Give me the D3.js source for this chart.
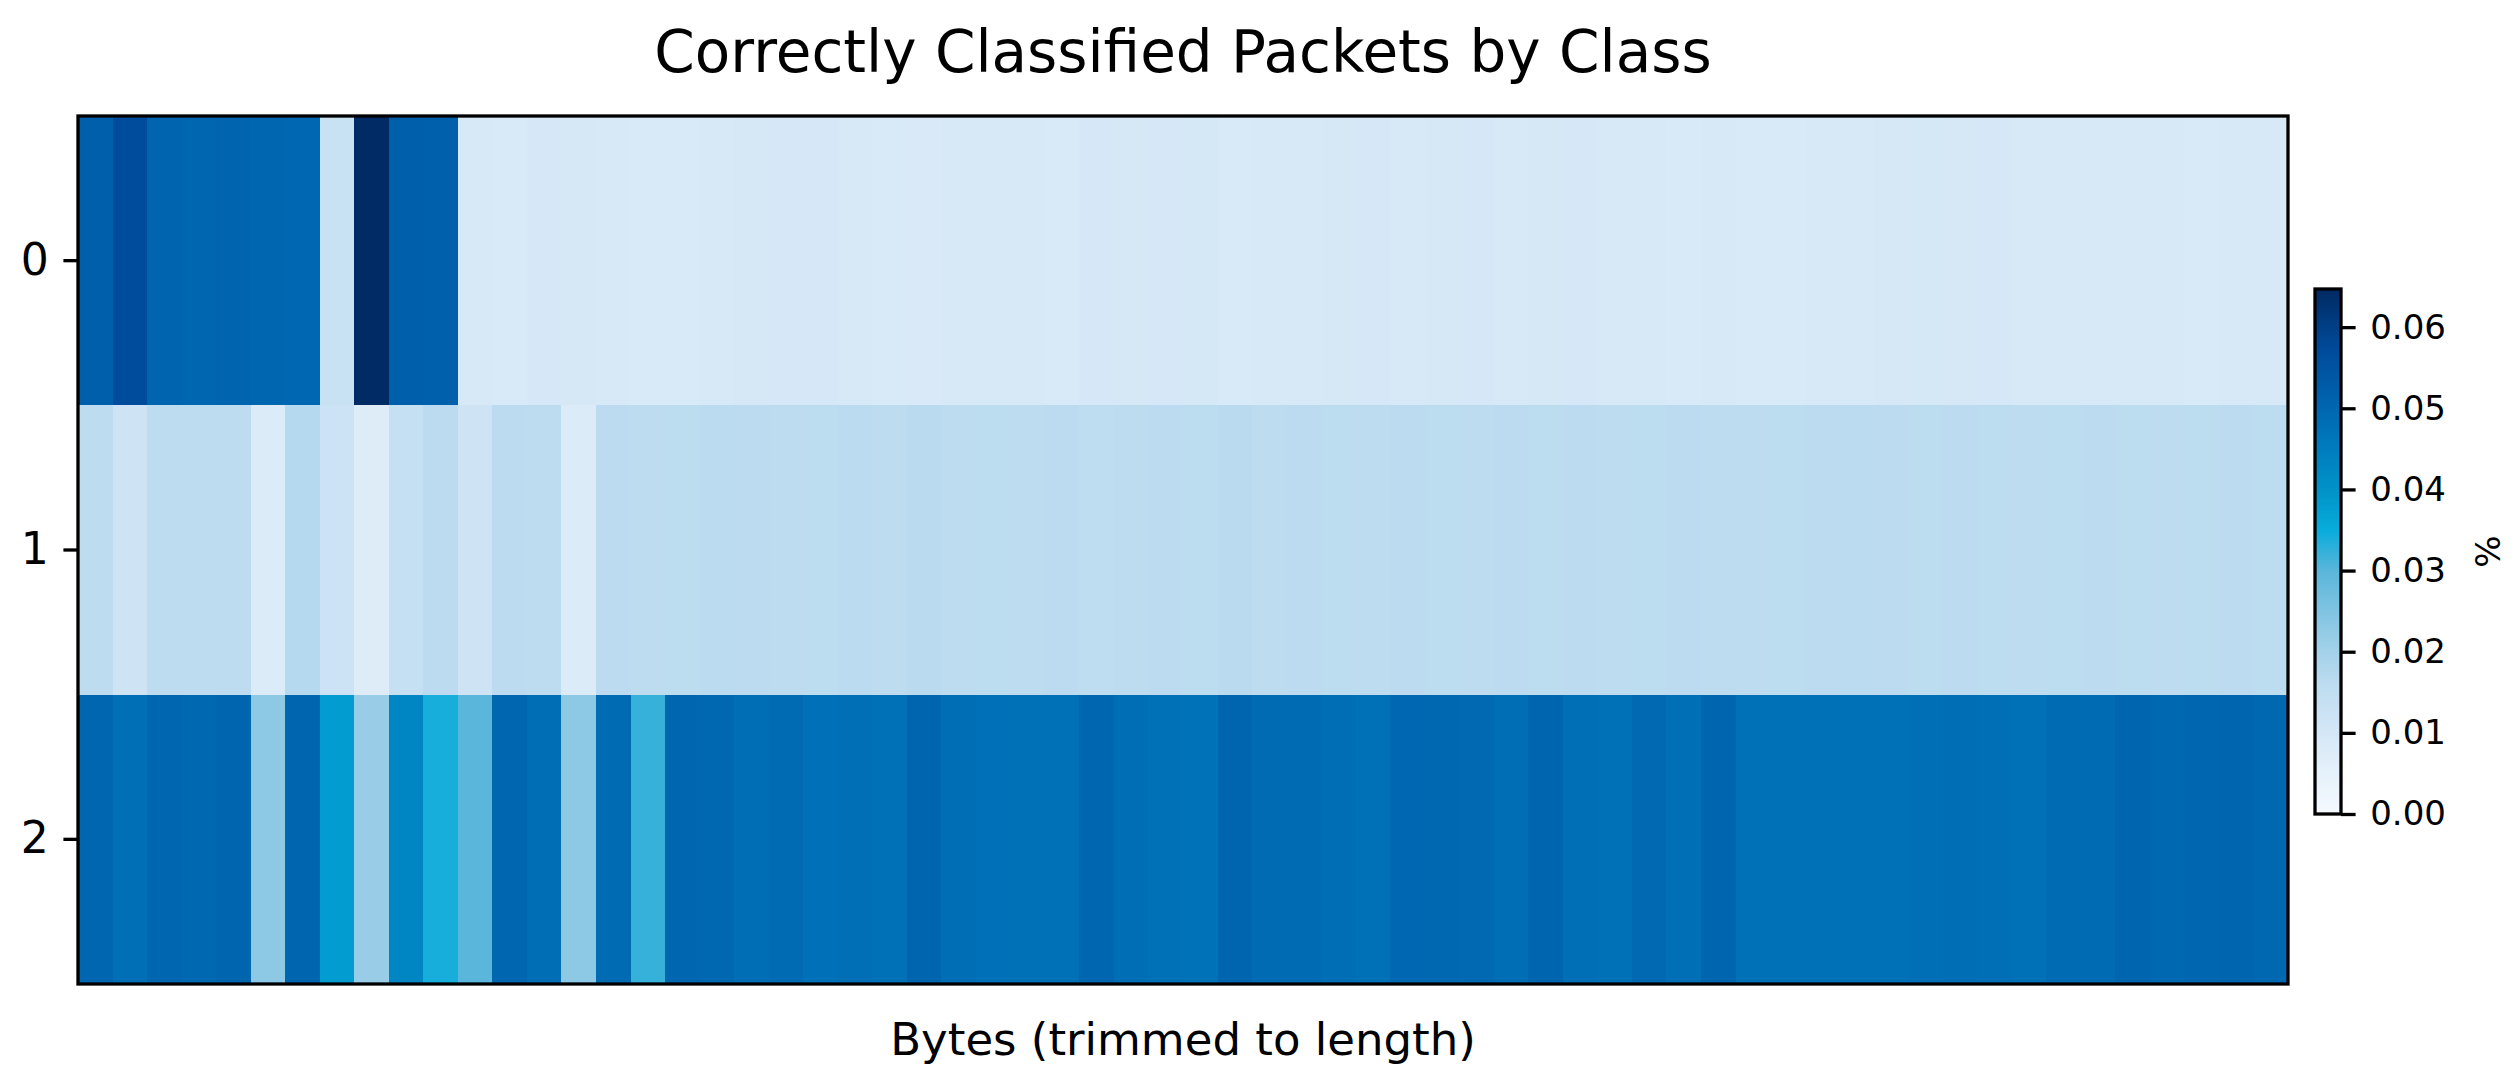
<!DOCTYPE html>
<html>
<head>
<meta charset="utf-8">
<script src="https://cdn.jsdelivr.net/npm/d3@7"></script>
<style>
  html, body { margin: 0; padding: 0; background: #fff; }
  svg { display: block; font-family: "DejaVu Sans", sans-serif; }
</style>
</head>
<body>
<svg id="chart" width="2517" height="1081"></svg>
<script>
// ---------------- data ----------------
const classes = ["0", "1", "2"];
const byteIndex = d3.range(64);

const class0 = [0.0520, 0.0570, 0.0505, 0.0500, 0.0505, 0.0500, 0.0495, 0.0130, 0.0645, 0.0520,
  0.0515, 0.0092, 0.0090, 0.0095, 0.0096, 0.0094, 0.0090, 0.0091, 0.0093, 0.0096,
  0.0095, 0.0095, 0.0094, 0.0090, 0.0089, 0.0092, 0.0094, 0.0093, 0.0091, 0.0095,
  0.0096, 0.0095, 0.0097, 0.0091, 0.0092, 0.0093, 0.0096, 0.0095, 0.0094, 0.0096,
  0.0095, 0.0094, 0.0096, 0.0095, 0.0094, 0.0093, 0.0091, 0.0093, 0.0090, 0.0091,
  0.0093, 0.0094, 0.0096, 0.0097, 0.0096, 0.0095, 0.0093, 0.0092, 0.0093, 0.0094,
  0.0093, 0.0091, 0.0093, 0.0094];

const class1 = [0.0160, 0.0115, 0.0160, 0.0158, 0.0160, 0.0080, 0.0172, 0.0125, 0.0075, 0.0140,
  0.0162, 0.0115, 0.0162, 0.0160, 0.0080, 0.0162, 0.0160, 0.0161, 0.0163, 0.0162,
  0.0160, 0.0161, 0.0163, 0.0160, 0.0164, 0.0160, 0.0161, 0.0160, 0.0162, 0.0157,
  0.0160, 0.0162, 0.0161, 0.0164, 0.0160, 0.0162, 0.0161, 0.0160, 0.0162, 0.0161,
  0.0160, 0.0162, 0.0161, 0.0162, 0.0160, 0.0161, 0.0162, 0.0160, 0.0159, 0.0161,
  0.0162, 0.0163, 0.0162, 0.0161, 0.0162, 0.0161, 0.0160, 0.0161, 0.0162, 0.0161,
  0.0160, 0.0161, 0.0162, 0.0161];

const class2 = [0.0500, 0.0480, 0.0500, 0.0498, 0.0502, 0.0232, 0.0502, 0.0380, 0.0215, 0.0425,
  0.0340, 0.0300, 0.0500, 0.0482, 0.0232, 0.0490, 0.0322, 0.0500, 0.0498, 0.0482,
  0.0492, 0.0475, 0.0480, 0.0478, 0.0502, 0.0482, 0.0475, 0.0476, 0.0478, 0.0500,
  0.0482, 0.0478, 0.0474, 0.0502, 0.0492, 0.0490, 0.0482, 0.0478, 0.0495, 0.0496,
  0.0494, 0.0482, 0.0502, 0.0480, 0.0478, 0.0494, 0.0480, 0.0502, 0.0478, 0.0476,
  0.0476, 0.0478, 0.0476, 0.0480, 0.0482, 0.0480, 0.0478, 0.0490, 0.0492, 0.0502,
  0.0498, 0.0500, 0.0502, 0.0498];

const colorbarTicks = [0, 0.01, 0.02, 0.03, 0.04, 0.05, 0.06];
const valueMax = 0.0647;

// colormap stops (value -> colour)
const cmapStops = [0, 0.008, 0.016, 0.022, 0.030, 0.035, 0.040, 0.046, 0.050, 0.057, 0.0647];
const cmapColors = ["#f5faff", "#dcebf8", "#bddcf0", "#96cce6", "#5ab6da", "#08acdb",
                    "#0092c8", "#0078bc", "#0066b0", "#004c9c", "#002a62"];

const titleText = "Correctly Classified Packets by Class";
const xLabelText = "Bytes (trimmed to length)";
const cbLabelText = "%";

// ---------------- layout ----------------
const svg = d3.select("#chart");
const plot = { left: 78, right: 2288, top: 116, bottom: 984 };
const cb = { left: 2315, right: 2341, top: 289, bottom: 814 };
const tickLen = 14.6, tickPad = 14.6, lw = 3.3;

const color = d3.scaleLinear().domain(cmapStops).range(cmapColors)
  .interpolate(d3.interpolateRgb).clamp(true);

const x = d3.scaleBand().domain(byteIndex).range([plot.left, plot.right]).padding(0);
const y = d3.scaleBand().domain(classes).range([plot.top, plot.bottom]).padding(0);

const rows = [class0, class1, class2];
const cells = [];
rows.forEach((vals, r) => vals.forEach((v, c) => cells.push({ row: classes[r], col: c, v })));

svg.append("g").selectAll("rect").data(cells).join("rect")
  .attr("x", d => x(d.col))
  .attr("y", d => y(d.row))
  .attr("width", x.bandwidth() + 0.6)
  .attr("height", y.bandwidth() + 0.6)
  .attr("fill", d => color(d.v))
  .attr("shape-rendering", "crispEdges");

// spine
svg.append("rect")
  .attr("x", plot.left).attr("y", plot.top)
  .attr("width", plot.right - plot.left).attr("height", plot.bottom - plot.top)
  .attr("fill", "none").attr("stroke", "#000").attr("stroke-width", lw);

// y axis
const yAxis = d3.axisLeft(y).tickSize(tickLen).tickPadding(tickPad).tickSizeOuter(0);
const gy = svg.append("g").attr("transform", `translate(${plot.left},0)`).call(yAxis);
gy.select(".domain").remove();
gy.selectAll(".tick line").attr("stroke", "#000").attr("stroke-width", lw);
gy.selectAll(".tick text").attr("font-size", 44).attr("fill", "#000")
  .attr("font-family", "DejaVu Sans");

// title
svg.append("text")
  .attr("x", (plot.left + plot.right) / 2).attr("y", 72)
  .attr("text-anchor", "middle").attr("font-size", 58).attr("fill", "#000")
  .text(titleText);

// x label
svg.append("text")
  .attr("x", (plot.left + plot.right) / 2).attr("y", 1055)
  .attr("text-anchor", "middle").attr("font-size", 45).attr("fill", "#000")
  .text(xLabelText);

// ---------------- colorbar ----------------
const cbScale = d3.scaleLinear().domain([0, valueMax]).range([cb.bottom, cb.top]);
const defs = svg.append("defs");
const grad = defs.append("linearGradient").attr("id", "cbgrad")
  .attr("x1", 0).attr("y1", 1).attr("x2", 0).attr("y2", 0);
d3.range(0, 1.0001, 1 / 128).forEach(t => {
  grad.append("stop").attr("offset", t).attr("stop-color", color(t * valueMax));
});
svg.append("rect")
  .attr("x", cb.left).attr("y", cb.top)
  .attr("width", cb.right - cb.left).attr("height", cb.bottom - cb.top)
  .attr("fill", "url(#cbgrad)");
svg.append("rect")
  .attr("x", cb.left).attr("y", cb.top)
  .attr("width", cb.right - cb.left).attr("height", cb.bottom - cb.top)
  .attr("fill", "none").attr("stroke", "#000").attr("stroke-width", lw);

const cbAxis = d3.axisRight(cbScale).tickValues(colorbarTicks).tickFormat(d3.format(".2f"))
  .tickSize(tickLen).tickPadding(tickPad).tickSizeOuter(0);
const gcb = svg.append("g").attr("transform", `translate(${cb.right},0)`).call(cbAxis);
gcb.select(".domain").remove();
gcb.selectAll(".tick line").attr("stroke", "#000").attr("stroke-width", lw);
gcb.selectAll(".tick text").attr("font-size", 34).attr("fill", "#000")
  .attr("font-family", "DejaVu Sans");

svg.append("text")
  .attr("transform", `translate(2488,${(cb.top + cb.bottom) / 2}) rotate(-90)`)
  .attr("text-anchor", "middle").attr("dy", "0.35em")
  .attr("font-size", 34).attr("fill", "#000")
  .text(cbLabelText);
</script>
</body>
</html>
